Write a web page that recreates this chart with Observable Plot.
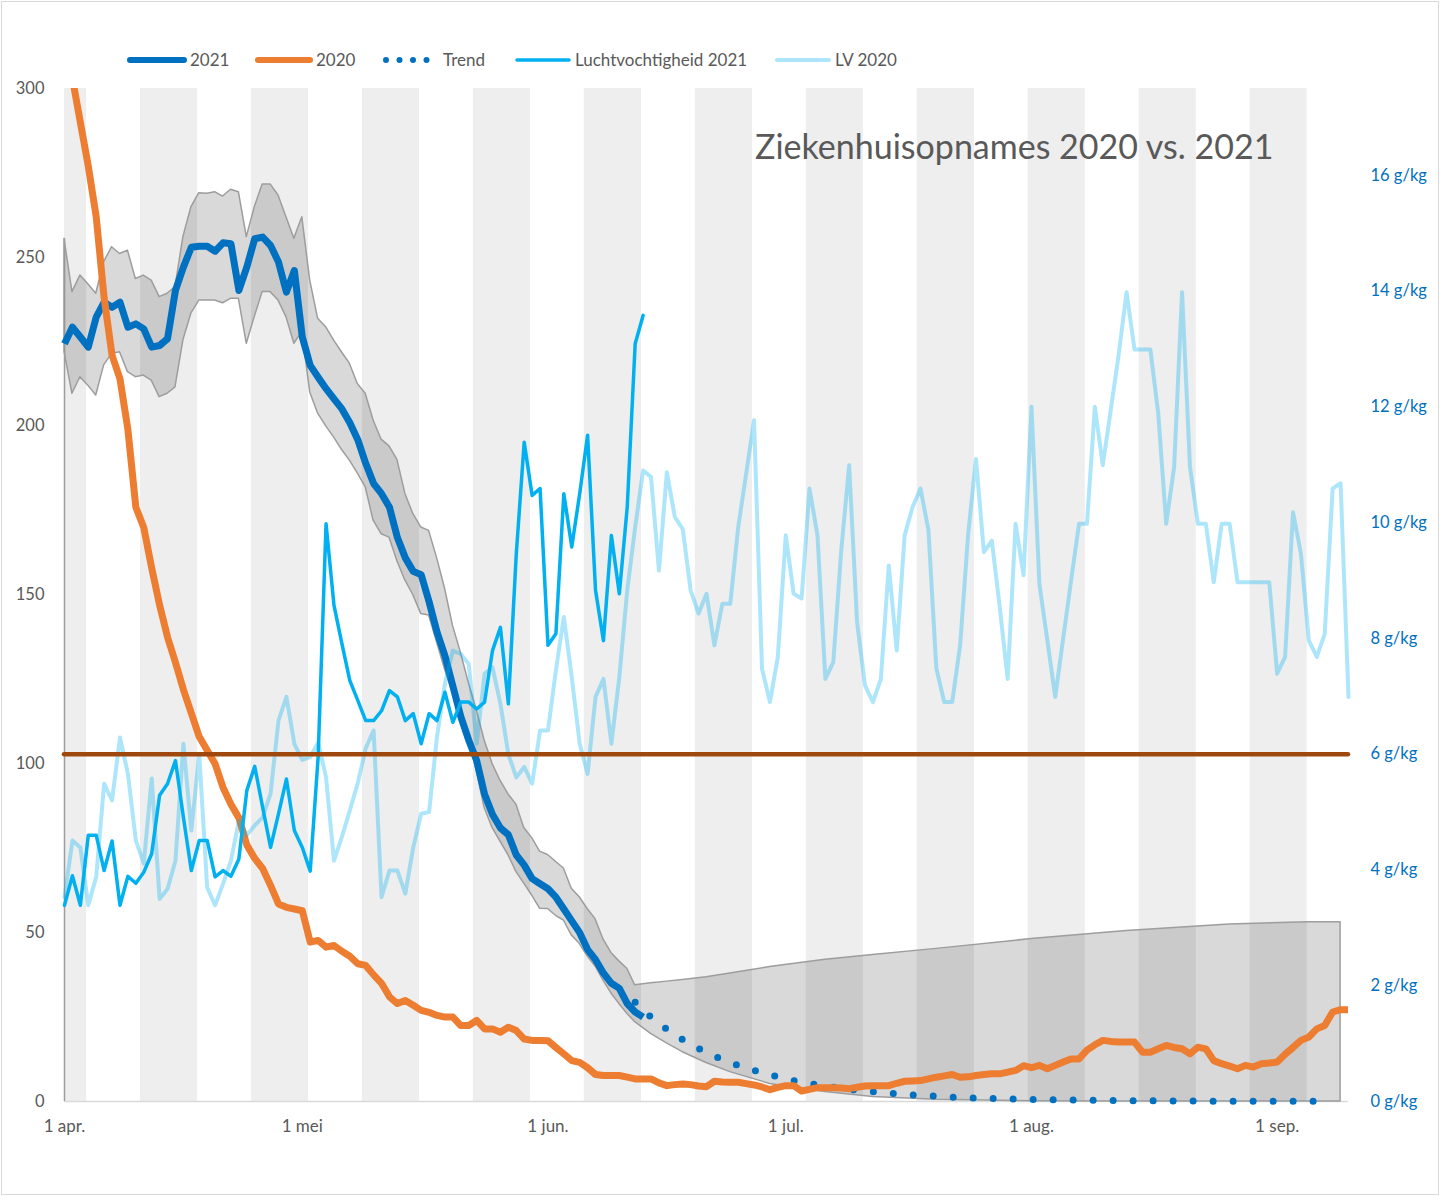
<!DOCTYPE html>
<html><head><meta charset="utf-8">
<script src="https://cdn.jsdelivr.net/npm/d3@7"></script>
<script src="https://cdn.jsdelivr.net/npm/@observablehq/plot@0.6"></script>
<style>
body{margin:0;background:#fff;font-family:Lato,"Open Sans",sans-serif;}
#wrap{position:relative;width:1441px;height:1197px;overflow:hidden;}
#frame{position:absolute;left:1px;top:1px;width:1438px;height:1194px;border:1px solid #d9d9d9;box-sizing:border-box;pointer-events:none;}
.legtext{position:absolute;font-size:17px;color:#595959;line-height:20px;white-space:nowrap;}
.legsw{position:absolute;}
#title{position:absolute;left:755px;top:125px;font-size:34px;line-height:42px;color:#595959;white-space:nowrap;}
</style></head><body>
<div id="wrap"><div id="chart"></div><div id="frame"></div><div id="title">Ziekenhuisopnames 2020 vs. 2021</div><div id="legend"></div></div>
<script>
// ---------- DATA ----------
const startDate = "2021-04-01";
const endDate = "2021-09-10";
const xTickDates = ["2021-04-01","2021-05-01","2021-06-01","2021-07-01","2021-08-01","2021-09-01"];
const xTickLabels = ["1 apr.","1 mei","1 jun.","1 jul.","1 aug.","1 sep."];
const yTicks = [0,50,100,150,200,250,300];
const humTicks = [0,2,4,6,8,10,12,14,16];
const humAxisMax = 17.5;   // g/kg at top of right axis
const humThreshold = 6;    // g/kg reference line
const legendLabels = ["2021","2020","Trend","Luchtvochtigheid 2021","LV 2020"];

// ziekenhuisopnames 2021, daily from 1 apr
const opnames2021 = [224.4,229.3,226.4,223.4,232.3,236.7,235.2,236.7,229.3,230.3,
 228.8,223.4,223.9,225.9,240.2,247.1,253.0,253.3,253.3,251.8,
 254.3,254.0,240.2,247.1,255.5,256.0,253.5,248.6,239.7,246.1,
 226.4,218.0,214.5,211.1,208.1,205.1,201,196,189,183,
 180,176,167,161,157,156,148,139,132,123,
 114,107,101,91,85,81,79,73,70,66,
 64.5,63,60.5,57,53.5,50,45,42,38,35,
 33.5,29,26.5,25];

// ziekenhuisopnames 2020, daily from 1 apr
const opnames2020 = [318,303,290,277,262,238,221,214,199,176,
 170,158,147,137.5,130,122,115,108,104,100,
 93,88,84,76,72,69,64,58.5,57.5,57,
 56.5,47.2,47.7,45.7,46.2,44.5,43,40.8,40.3,37.5,
 35,31,29,29.9,28.5,27,26.4,25.5,25,25,
 22.5,22.5,24,21.5,21.5,20.5,22,21,18.5,18.1,
 18.1,18,16,14.1,12.1,11.6,10,8,7.7,7.7,
 7.7,7.2,6.7,6.7,6.7,5.5,4.7,5,5.2,5,
 4.6,4.4,6.0,5.8,5.7,5.7,5.3,4.9,4.3,3.5,
 4.2,4.7,4.7,3.1,3.6,4.1,4.1,4.1,4.0,3.8,
 4.2,4.6,4.7,4.7,4.7,5.4,6.0,6.1,6.2,6.7,
 7.2,7.6,8.0,7.2,7.3,7.7,8.0,8.2,8.2,8.7,
 9.2,10.6,10.0,10.7,9.7,10.7,11.7,12.6,12.6,15.2,
 16.8,18.1,17.8,17.6,17.6,17.6,14.6,14.6,15.6,16.6,
 16.0,15.6,14.1,16.1,15.6,12.1,11.2,10.5,9.7,10.7,
 10.2,11.2,11.4,11.7,14.0,16.0,18.1,19.1,21.5,22.5,
 26.5,27.2,27.2];

// luchtvochtigheid 2021 (g/kg), daily from 1 apr
const lucht2021 = [3.39,3.90,3.39,4.60,4.60,3.99,4.50,3.39,3.89,3.77,
 3.96,4.28,5.29,5.49,5.89,4.91,3.99,4.51,4.51,3.88,
 3.99,3.89,4.19,5.37,5.79,5.08,4.39,4.97,5.57,4.68,
 4.39,3.98,5.95,9.98,8.57,7.91,7.27,6.93,6.58,6.58,
 6.75,7.10,6.99,6.58,6.70,6.18,6.70,6.58,7.07,6.55,
 6.90,6.90,6.78,6.90,7.79,8.19,6.87,9.46,11.39,10.47,
 10.59,7.88,8.08,10.50,9.58,10.50,11.51,8.83,7.96,9.78,
 8.77,10.27,13.09,13.58];

// luchtvochtigheid 2020 (g/kg), daily from 1 apr
const lv2020 = [3.53,4.51,4.39,3.39,3.88,5.49,5.20,6.29,5.66,4.51,
 4.11,5.58,3.50,3.67,4.16,6.18,4.68,6.00,3.70,3.39,
 3.76,4.16,4.85,4.60,4.77,4.91,5.32,6.58,6.99,6.18,
 5.90,5.95,6.20,5.60,4.16,4.57,5.03,5.50,6.10,6.41,
 3.53,3.99,3.99,3.59,4.39,4.97,5.00,6.30,7.22,7.79,
 7.73,7.56,6.18,7.39,7.50,6.87,6.00,5.60,5.78,5.49,
 6.41,6.41,7.45,8.37,7.33,6.18,5.66,6.99,7.30,6.18,
 7.33,8.83,9.92,10.90,10.79,9.17,10.87,10.10,9.89,8.83,
 8.43,8.77,7.88,8.60,8.60,9.92,10.84,11.77,7.48,6.90,
 7.68,9.78,8.77,8.69,10.59,9.78,7.30,7.59,9.52,10.99,
 8.28,7.19,6.90,7.30,9.26,7.79,9.78,10.27,10.59,9.87,
 7.48,6.90,6.90,7.88,9.78,11.10,9.49,9.69,8.54,7.30,
 9.98,9.09,12.00,8.94,7.97,6.99,8.00,9.00,9.98,9.98,
 12.00,10.99,11.94,12.90,13.98,12.99,12.99,12.99,11.88,9.98,
 10.96,13.98,10.96,9.98,9.98,8.97,9.98,9.98,8.97,8.97,
 8.97,8.97,8.97,7.39,7.68,10.18,9.46,7.96,7.68,8.08,
 10.59,10.68,6.99];

// band around 2021, daily from 1 apr (days 0..72)
const bandUpperHead = [255.5,239.7,244.6,242,239.2,248.6,253.0,251.0,252.0,243.6,
 244.6,243.1,238.2,239.2,241.2,256.0,264.8,269.0,268.8,269.3,
 268.0,270.0,269.3,256.0,264.8,271.6,271.6,268.3,261.9,255.5,
 261.9,243.1,231.8,229.3,225.4,221.9,218.5,212.5,209.6,201.7,
 196,194,190,180,174,170,169,161,152,141,
 133,124,116,107,100,95,91,88,81,78,
 74,73,71,69,63,60.5,57,54,48,44,
 41.5,39.3,34.4];
const bandLowerHead = [222,209.6,214.5,212,209.1,218,221.4,221.9,216,214.5,
 215,213.5,208.6,209.6,211.5,225.4,233.3,237.2,237.2,237.2,
 236.4,237.7,237.7,224.4,232.3,239.7,239.7,237.2,232.3,224.4,
 228,210,203.7,200,196.7,193,189.8,186,181.9,172,
 168,167,160,154.3,150,144.4,143.9,136,128,121,
 114,108,98,87,81,77,73,68,64.5,61,
 57.1,57,55,53.6,49.2,46.7,43,40,35.8,32,
 28.9,26,23.5];
// band after the last 2021 value (day numbers since 1 apr)
const bandTailDays  = [74,76,78,81,84,89,96,102,110,122,134,147,157,161];
const bandTailUpper = [35.0,35.5,36.0,36.8,37.9,39.8,42.0,43.4,45.2,48.1,50.5,52.4,53.1,53.1];
const bandTailLower = [20,17.2,14.6,11.4,8.7,5.2,2.8,1.3,0.5,0.1,0,0,0,0];

// trend 2021 (every 2 days from day 72)
const trendFirstDay = 72;
const trendValues = [29.4,25.0,21.4,18.3,15.7,13.4,11.5,9.9,8.5,7.3,
 6.2,5.3,4.6,3.9,3.4,2.9,2.5,2.1,1.8,1.6,
 1.3,1.1,1.0,0.8,0.7,0.6,0.5,0.45,0.4,0.35,
 0.3,0.25,0.2,0.2,0.15,0.15,0.1,0.1,0.1,0.1,
 0.1,0.05,0.05,0.05,0.05];

// alternating week shading (week start dates)
const stripeStarts = ["2021-03-28","2021-04-11","2021-04-25","2021-05-09","2021-05-23","2021-06-06",
 "2021-06-20","2021-07-04","2021-07-18","2021-08-01","2021-08-15","2021-08-29"];

// ---------- BUILD ----------
const parse = d3.utcParse("%Y-%m-%d");
const start = parse(startDate), end = parse(endDate);
const at = i => d3.utcDay.offset(start, i);
const toLeft = g => g * 300 / humAxisMax;

const s2021 = opnames2021.map((v,i)=>({date:at(i), v}));
const s2020 = opnames2020.map((v,i)=>({date:at(i), v}));
const h2021 = lucht2021.map((g,i)=>({date:at(i), v:toLeft(g)}));
const h2020 = lv2020.map((g,i)=>({date:at(i), v:toLeft(g)}));
const band = bandUpperHead.map((u,i)=>({date:at(i), lo:bandLowerHead[i], hi:u}))
  .concat(bandTailDays.map((d,i)=>({date:at(d), lo:bandTailLower[i], hi:bandTailUpper[i]})));
const trend = trendValues.map((v,i)=>({date:at(trendFirstDay + 2*i), v}));
const stripes = stripeStarts.map(s=>{const d=parse(s); return {x1:d3.utcHour.offset(d,-10), x2:d3.utcHour.offset(d,163)};});
const labelMap = new Map(xTickDates.map((s,i)=>[+parse(s), xTickLabels[i]]));

const gray = "#595959";
const chart = Plot.plot({
  width:1441, height:1197,
  marginLeft:64, marginRight:93, marginTop:88, marginBottom:96,
  style:{fontFamily:"Lato", fontSize:"16px", background:"transparent"},
  x:{type:"utc", domain:[start,end]},
  y:{domain:[0,300]},
  marks:[
    Plot.rect(stripes, {x1:"x1", x2:"x2", y1:0, y2:300, fill:"#eeeeee", clip:true}),
    Plot.ruleY([0], {stroke:"#d9d9d9", strokeWidth:1.5}),
    Plot.ruleX([band[0]], {x:"date", y1:0, y2:"hi", stroke:"#9d9d9d", strokeWidth:1.5}),
    Plot.areaY(band, {x:"date", y1:"lo", y2:"hi", fill:"#000", fillOpacity:0.15, stroke:"#9d9d9d", strokeWidth:1.5}),
    Plot.lineY(s2021, {x:"date", y:"v", stroke:"#0070C0", strokeWidth:7, strokeLinecap:"butt"}),
    Plot.lineY(trend, {x:"date", y:"v", stroke:"#0070C0", strokeWidth:7, strokeDasharray:"0 20", strokeLinecap:"round"}),
    Plot.lineY(s2020, {x:"date", y:"v", stroke:"#ED7D31", strokeWidth:7, strokeLinecap:"round", clip:true}),
    Plot.lineY(h2021, {x:"date", y:"v", stroke:"#00B0F0", strokeWidth:3.5, strokeLinecap:"round"}),
    Plot.lineY(h2020, {x:"date", y:"v", stroke:"#00B0F0", strokeOpacity:0.32, strokeWidth:4, strokeLinecap:"round"}),
    Plot.ruleY([{y:toLeft(humThreshold), x1:start, x2:end}], {y:"y", x1:"x1", x2:"x2", stroke:"#9E480E", strokeWidth:4.5, strokeLinecap:"round"}),
    Plot.axisY(yTicks, {anchor:"left", tickSize:0, tickPadding:20, color:gray, fontSize:16.5, label:null}),
    Plot.axisY(humTicks.map(toLeft), {anchor:"right", tickSize:0, tickPadding:22, color:"#0070C0", fontSize:16.5, label:null,
      tickFormat: v => `${Math.round(v*humAxisMax/300)} g/kg`}),
    Plot.axisX(xTickDates.map(parse), {anchor:"bottom", tickSize:0, tickPadding:18, color:gray, fontSize:17, label:null,
      tickFormat: d => labelMap.get(+d)})
  ]
});
document.getElementById("chart").appendChild(chart);

// ---------- LEGEND ----------
const legendStyles = [
  {left:130, w:60, color:"#0070C0", sw:6, dash:null, op:1},
  {left:258, w:58, color:"#ED7D31", sw:6, dash:null, op:1},
  {left:386, w:56, color:"#0070C0", sw:6, dash:"0 13.5", op:1},
  {left:517, w:58, color:"#00B0F0", sw:3.5, dash:null, op:1},
  {left:777, w:58, color:"#00B0F0", sw:4, dash:null, op:0.32}
];
const leg = document.getElementById("legend");
legendLabels.forEach((lab,i)=>{
  const s = legendStyles[i];
  const svg = d3.create("svg").attr("class","legsw").attr("width",s.w).attr("height",20)
    .style("left",(s.left-3)+"px").style("top","50px");
  const len = s.dash ? 45 : s.w-6;
  svg.append("line").attr("x1",3).attr("x2",3+len).attr("y1",10).attr("y2",10)
    .attr("stroke",s.color).attr("stroke-width",s.sw).attr("stroke-opacity",s.op)
    .attr("stroke-linecap","round").attr("stroke-dasharray",s.dash);
  leg.appendChild(svg.node());
  const t = document.createElement("div");
  t.className="legtext"; t.textContent=lab;
  t.style.left = (s.left + (s.dash ? 57 : s.w)) + "px"; t.style.top="50px";
  leg.appendChild(t);
});
</script>
</body></html>
